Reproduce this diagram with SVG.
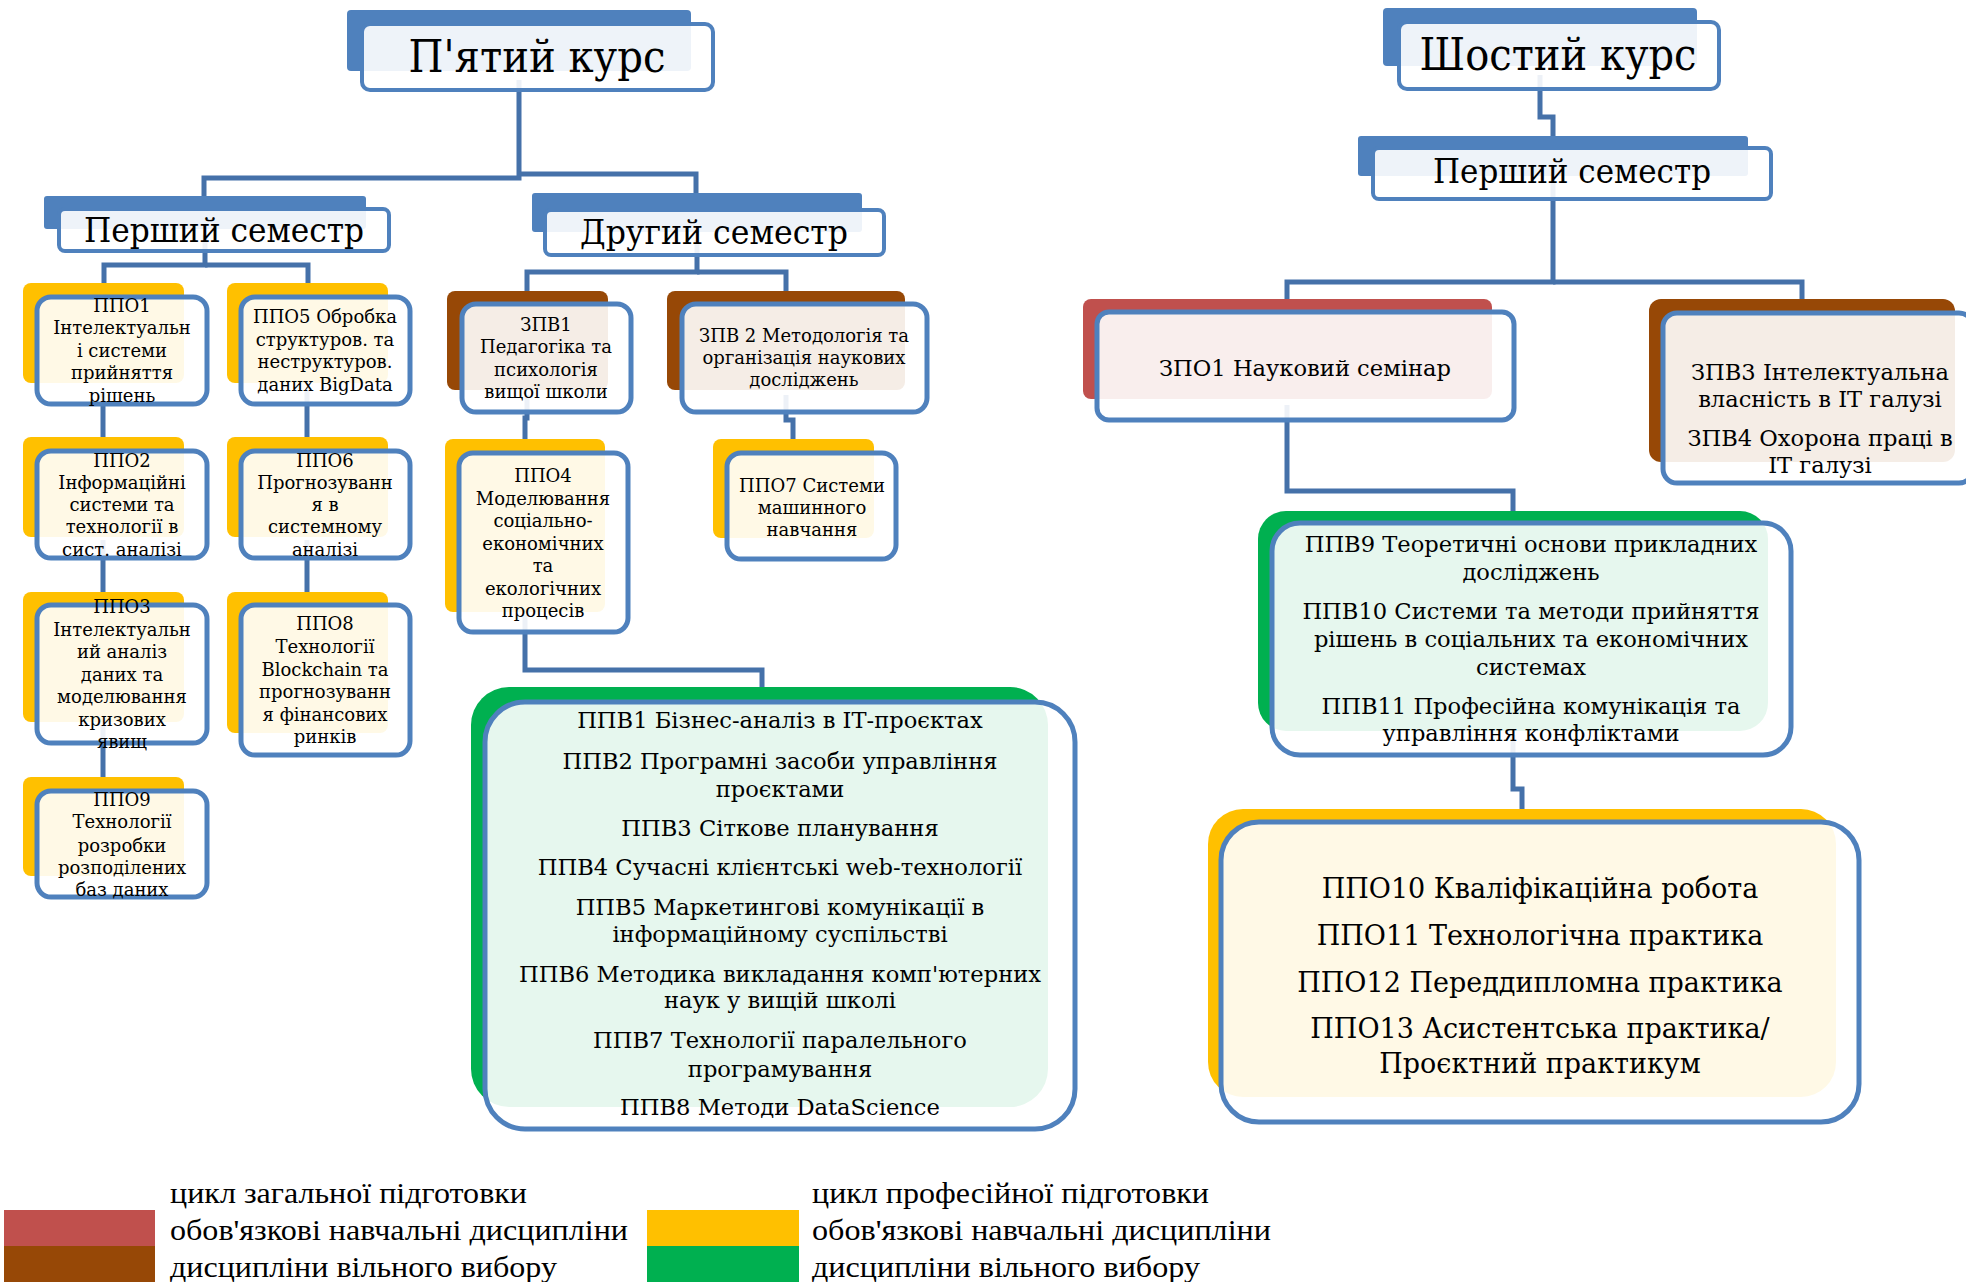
<svg xmlns="http://www.w3.org/2000/svg" width="1966" height="1282" viewBox="0 0 1966 1282">
<style>
.bb{fill:#4F81BD}
.y{fill:#FFC000}.g{fill:#00B050}.b{fill:#974806}.r{fill:#C0504D}
.f{fill:#FFFFFF;fill-opacity:.9;stroke:#4F81BD;stroke-width:5}
.hf{fill:#FFFFFF;fill-opacity:.9;stroke:#4F81BD;stroke-width:4}
.c{fill:none;stroke:#4571A9;stroke-width:5}
text{font-family:"DejaVu Serif","Liberation Serif",serif;fill:#000;text-anchor:middle}
.s{font-size:18px}.m{font-size:22.6px}.l{font-size:27px}
.h1{font-size:44px}.h2{font-size:34px}
.lg{font-family:"Liberation Serif",serif;font-size:30px;text-anchor:start}
</style>
<rect width="1966" height="1282" fill="#FFFFFF"/>
<g id="connectors">
<path class="c" d="M519,80 V178 H204 V200"/>
<path class="c" d="M519,174 H696 V198"/>
<path class="c" d="M205,235 V265 H104 V290"/>
<path class="c" d="M205,265 H308 V290"/>
<path class="c" d="M103,390 V445"/>
<path class="c" d="M103,540 V600"/>
<path class="c" d="M103,725 V785"/>
<path class="c" d="M307,390 V445"/>
<path class="c" d="M307,540 V600"/>
<path class="c" d="M697,240 V272 H527 V296"/>
<path class="c" d="M697,272 H786 V296"/>
<path class="c" d="M527,395 V418 H525 V445"/>
<path class="c" d="M786,395 V420 H793 V445"/>
<path class="c" d="M525,615 V670 H762 V695"/>
<path class="c" d="M1540,75 V117 H1553 V140"/>
<path class="c" d="M1553,180 V282 H1287 V305"/>
<path class="c" d="M1553,282 H1802 V305"/>
<path class="c" d="M1287,405 V491 H1513 V515"/>
<path class="c" d="M1513,735 V789 H1522 V815"/>
</g>
<g id="n5course">
<rect class="bb" x="347" y="10" width="344" height="61" rx="4"/>
<rect class="hf" x="362" y="24" width="351" height="66" rx="8"/>
<text class="h1" x="537" y="72" textLength="257" lengthAdjust="spacingAndGlyphs">П'ятий курс</text>
</g>
<g id="n5sem1">
<rect class="bb" x="44" y="196" width="322" height="33" rx="3"/>
<rect class="hf" x="59" y="209" width="330" height="42" rx="6"/>
<text class="h2" x="224" y="242" textLength="280" lengthAdjust="spacingAndGlyphs">Перший семестр</text>
</g>
<g id="n5sem2">
<rect class="bb" x="532" y="193" width="330" height="39" rx="3"/>
<rect class="hf" x="545" y="210" width="339" height="45" rx="6"/>
<text class="h2" x="714" y="244" textLength="268" lengthAdjust="spacingAndGlyphs">Другий семестр</text>
</g>
<g id="n6course">
<rect class="bb" x="1383" y="8" width="314" height="58" rx="4"/>
<rect class="hf" x="1399" y="22" width="320" height="67" rx="8"/>
<text class="h1" x="1558" y="70" textLength="277" lengthAdjust="spacingAndGlyphs">Шостий курс</text>
</g>
<g id="n6sem1">
<rect class="bb" x="1358" y="136" width="390" height="40" rx="3"/>
<rect class="hf" x="1373" y="148" width="398" height="51" rx="6"/>
<text class="h2" x="1572" y="183" textLength="278" lengthAdjust="spacingAndGlyphs">Перший семестр</text>
</g>
<g id="ppo1">
<rect class="y" x="23" y="283" width="161" height="100" rx="8"/>
<rect class="f" x="37" y="297" width="170" height="107" rx="14"/>
<text class="s" x="122"><tspan x="122" y="312">ППО1</tspan><tspan x="122" y="334">Інтелектуальн</tspan><tspan x="122" y="357">і системи</tspan><tspan x="122" y="379">прийняття</tspan><tspan x="122" y="402">рішень</tspan></text>
</g>
<g id="ppo2">
<rect class="y" x="23" y="437" width="161" height="100" rx="8"/>
<rect class="f" x="37" y="451" width="170" height="107" rx="14"/>
<text class="s" x="122"><tspan x="122" y="467">ППО2</tspan><tspan x="122" y="489">Інформаційні</tspan><tspan x="122" y="511">системи та</tspan><tspan x="122" y="533">технології в</tspan><tspan x="122" y="556">сист. аналізі</tspan></text>
</g>
<g id="ppo3">
<rect class="y" x="23" y="592" width="161" height="130" rx="8"/>
<rect class="f" x="37" y="605" width="170" height="138" rx="14"/>
<text class="s" x="122"><tspan x="122" y="613">ППО3</tspan><tspan x="122" y="636">Інтелектуальн</tspan><tspan x="122" y="658">ий аналіз</tspan><tspan x="122" y="681">даних та</tspan><tspan x="122" y="703">моделювання</tspan><tspan x="122" y="726">кризових</tspan><tspan x="122" y="748">явищ</tspan></text>
</g>
<g id="ppo9">
<rect class="y" x="23" y="777" width="161" height="99" rx="8"/>
<rect class="f" x="37" y="791" width="170" height="106" rx="14"/>
<text class="s" x="122"><tspan x="122" y="806">ППО9</tspan><tspan x="122" y="828">Технології</tspan><tspan x="122" y="852">розробки</tspan><tspan x="122" y="874">розподілених</tspan><tspan x="122" y="896">баз даних</tspan></text>
</g>
<g id="ppo5">
<rect class="y" x="227" y="283" width="161" height="100" rx="8"/>
<rect class="f" x="241" y="297" width="169" height="107" rx="14"/>
<text class="s" x="325"><tspan x="325" y="323">ППО5 Обробка</tspan><tspan x="325" y="346">структуров. та</tspan><tspan x="325" y="368">неструктуров.</tspan><tspan x="325" y="391">даних BigData</tspan></text>
</g>
<g id="ppo6">
<rect class="y" x="227" y="437" width="161" height="100" rx="8"/>
<rect class="f" x="241" y="451" width="169" height="107" rx="14"/>
<text class="s" x="325"><tspan x="325" y="467">ППО6</tspan><tspan x="325" y="489">Прогнозуванн</tspan><tspan x="325" y="511">я в</tspan><tspan x="325" y="533">системному</tspan><tspan x="325" y="556">аналізі</tspan></text>
</g>
<g id="ppo8">
<rect class="y" x="227" y="592" width="161" height="141" rx="8"/>
<rect class="f" x="241" y="605" width="169" height="150" rx="14"/>
<text class="s" x="325"><tspan x="325" y="630">ППО8</tspan><tspan x="325" y="653">Технології</tspan><tspan x="325" y="676">Blockchain та</tspan><tspan x="325" y="698">прогнозуванн</tspan><tspan x="325" y="721">я фінансових</tspan><tspan x="325" y="743">ринків</tspan></text>
</g>
<g id="zpv1">
<rect class="b" x="447" y="291" width="161" height="99" rx="8"/>
<rect class="f" x="462" y="304" width="169" height="108" rx="14"/>
<text class="s" x="546"><tspan x="546" y="331">ЗПВ1</tspan><tspan x="546" y="353">Педагогіка та</tspan><tspan x="546" y="376">психологія</tspan><tspan x="546" y="398">вищої школи</tspan></text>
</g>
<g id="zpv2">
<rect class="b" x="667" y="291" width="238" height="99" rx="8"/>
<rect class="f" x="682" y="304" width="245" height="108" rx="14"/>
<text class="s" x="804"><tspan x="804" y="342">ЗПВ 2 Методологія та</tspan><tspan x="804" y="364">організація наукових</tspan><tspan x="804" y="386">досліджень</tspan></text>
</g>
<g id="ppo4">
<rect class="y" x="445" y="439" width="160" height="173" rx="8"/>
<rect class="f" x="459" y="453" width="169" height="179" rx="14"/>
<text class="s" x="543"><tspan x="543" y="482">ППО4</tspan><tspan x="543" y="505">Моделювання</tspan><tspan x="543" y="527">соціально-</tspan><tspan x="543" y="550">економічних</tspan><tspan x="543" y="572">та</tspan><tspan x="543" y="595">екологічних</tspan><tspan x="543" y="617">процесів</tspan></text>
</g>
<g id="ppo7">
<rect class="y" x="713" y="439" width="161" height="99" rx="8"/>
<rect class="f" x="727" y="453" width="169" height="106" rx="14"/>
<text class="s" x="812"><tspan x="812" y="492">ППО7 Системи</tspan><tspan x="812" y="514">машинного</tspan><tspan x="812" y="536">навчання</tspan></text>
</g>
<g id="ppv1-8">
<rect class="g" x="471" y="687" width="577" height="420" rx="38"/>
<rect class="f" x="485" y="702" width="590" height="427" rx="40"/>
<text class="m" x="780"><tspan x="780" y="728">ППВ1 Бізнес-аналіз в ІТ-проєктах</tspan><tspan x="780" y="769">ППВ2 Програмні засоби управління</tspan><tspan x="780" y="797">проєктами</tspan><tspan x="780" y="836">ППВ3 Сіткове планування</tspan><tspan x="780" y="875">ППВ4 Сучасні клієнтські web-технології</tspan><tspan x="780" y="915">ППВ5 Маркетингові комунікації в</tspan><tspan x="780" y="942">інформаційному суспільстві</tspan><tspan x="780" y="982">ППВ6 Методика викладання комп'ютерних</tspan><tspan x="780" y="1008">наук у вищій школі</tspan><tspan x="780" y="1048">ППВ7 Технології паралельного</tspan><tspan x="780" y="1077">програмування</tspan><tspan x="780" y="1115">ППВ8 Методи DataScience</tspan></text>
</g>
<g id="zpo1">
<rect class="r" x="1083" y="299" width="409" height="100" rx="8"/>
<rect class="f" x="1097" y="312" width="417" height="108" rx="12"/>
<text class="m" x="1305" y="376">ЗПО1 Науковий семінар</text>
</g>
<g id="zpv3-4">
<rect class="b" x="1649" y="299" width="306" height="163" rx="12"/>
<rect class="f" x="1663" y="313" width="310" height="170" rx="14"/>
<text class="m" x="1820"><tspan x="1820" y="380">ЗПВ3 Інтелектуальна</tspan><tspan x="1820" y="407">власність в ІТ галузі</tspan><tspan x="1820" y="446">ЗПВ4 Охорона праці в</tspan><tspan x="1820" y="473">ІТ галузі</tspan></text>
</g>
<g id="ppv9-11">
<rect class="g" x="1258" y="511" width="510" height="220" rx="28"/>
<rect class="f" x="1272" y="523" width="519" height="232" rx="28"/>
<text class="m" x="1531"><tspan x="1531" y="552">ППВ9 Теоретичні основи прикладних</tspan><tspan x="1531" y="580">досліджень</tspan><tspan x="1531" y="619">ППВ10 Системи та методи прийняття</tspan><tspan x="1531" y="647">рішень в соціальних та економічних</tspan><tspan x="1531" y="675">системах</tspan><tspan x="1531" y="714">ППВ11 Професійна комунікація та</tspan><tspan x="1531" y="741">управління конфліктами</tspan></text>
</g>
<g id="ppo10-13">
<rect class="y" x="1208" y="809" width="628" height="288" rx="35"/>
<rect class="f" x="1221" y="822" width="638" height="300" rx="38"/>
<text class="l" x="1540"><tspan x="1540" y="898">ППО10 Кваліфікаційна робота</tspan><tspan x="1540" y="945">ППО11 Технологічна практика</tspan><tspan x="1540" y="992">ППО12 Переддипломна практика</tspan><tspan x="1540" y="1038">ППО13 Асистентська практика/</tspan><tspan x="1540" y="1073">Проєктний практикум</tspan></text>
</g>
<g id="legend">
<rect class="r" x="4" y="1210" width="151" height="36"/>
<rect class="b" x="4" y="1246" width="151" height="36"/>
<rect class="y" x="647" y="1210" width="152" height="36"/>
<rect class="g" x="647" y="1246" width="152" height="36"/>
<text class="lg" x="170" y="1203" textLength="357" lengthAdjust="spacingAndGlyphs">цикл загальної підготовки</text>
<text class="lg" x="170" y="1240" textLength="458" lengthAdjust="spacingAndGlyphs">обов'язкові навчальні дисципліни</text>
<text class="lg" x="170" y="1277" textLength="387" lengthAdjust="spacingAndGlyphs">дисципліни вільного вибору</text>
<text class="lg" x="812" y="1203" textLength="397" lengthAdjust="spacingAndGlyphs">цикл професійної підготовки</text>
<text class="lg" x="812" y="1240" textLength="459" lengthAdjust="spacingAndGlyphs">обов'язкові навчальні дисципліни</text>
<text class="lg" x="812" y="1277" textLength="388" lengthAdjust="spacingAndGlyphs">дисципліни вільного вибору</text>
</g>
</svg>
